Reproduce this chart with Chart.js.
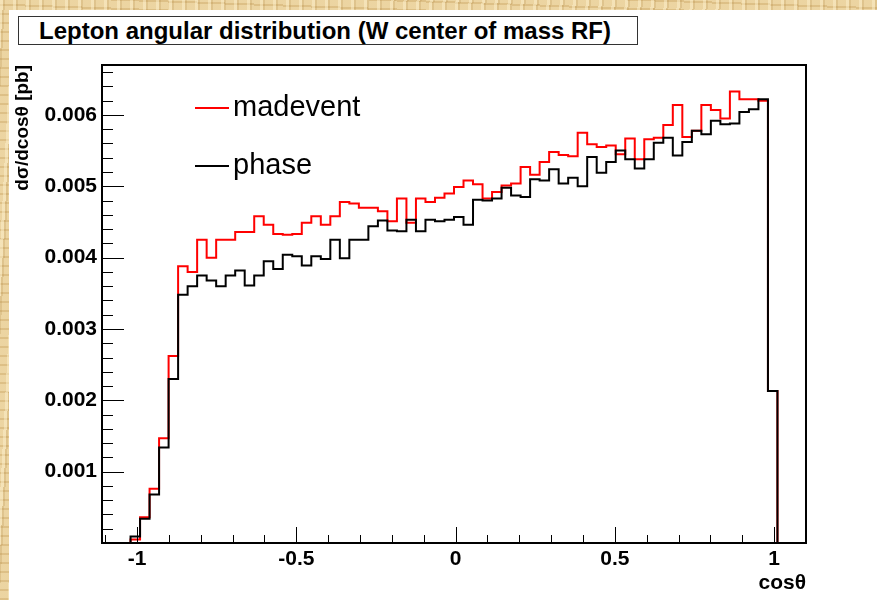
<!DOCTYPE html>
<html>
<head>
<meta charset="utf-8">
<script src="https://cdn.jsdelivr.net/npm/chart.js@4.4.0/dist/chart.umd.min.js"></script>
<style>
  html, body { margin: 0; padding: 0; }
  body {
    width: 877px; height: 600px; overflow: hidden; position: relative;
    background-color: #e6cc96;
    background-image:
      repeating-linear-gradient(93deg, rgba(255,244,210,.45) 0 3px, rgba(170,128,58,.20) 3px 5px, rgba(255,255,255,0) 5px 13px),
      repeating-linear-gradient(2deg, rgba(190,148,78,.22) 0 2px, rgba(255,238,196,.25) 2px 9px);
  }
  #pad { position: absolute; left: 9px; top: 10px; right: 0; bottom: 0; background: #fff; }
  #chart { position: absolute; left: 0; top: 0; }
  #title {
    position: absolute; left: 18px; top: 16px; width: 598px; height: 27px;
    padding-left: 20px; border: 1px solid #333; background: #fff;
    font: bold 24px "Liberation Sans", Arial, sans-serif; line-height: 27px; color: #000;
    white-space: nowrap;
  }
</style>
</head>
<body>
<div id="pad"></div>
<div id="title">Lepton angular distribution (W center of mass RF)</div>
<canvas id="chart" width="877" height="600"></canvas>
<script>
// --- Data (74 bins over the x range) ---
const X_MIN = -1.11;
const X_MAX = 1.10;
const N_BINS = 74;

const SERIES_NAMES = ['madevent', 'phase'];

const MADEVENT = [
  0, 0, 0, 0.00005, 0.00036, 0.00076, 0.00147, 0.00262, 0.00388, 0.00380,
  0.00425, 0.00400, 0.00425, 0.00425, 0.00436, 0.00436, 0.00458, 0.00446, 0.00433, 0.00432,
  0.00433, 0.00449, 0.00458, 0.00446, 0.00458, 0.00478, 0.00476, 0.00470, 0.00470, 0.00465,
  0.00451, 0.00483, 0.00449, 0.00483, 0.00478, 0.00484, 0.00490, 0.00499, 0.00508, 0.00503,
  0.00483, 0.00492, 0.00501, 0.00504, 0.00527, 0.00516, 0.00534, 0.00548, 0.00544, 0.00542,
  0.00575, 0.00559, 0.00555, 0.00557, 0.00545, 0.00567, 0.00538, 0.00566, 0.00568, 0.00586,
  0.00614, 0.00569, 0.00578, 0.00614, 0.00607, 0.00595, 0.00633, 0.00622, 0.00622, 0.00620,
  0.00213, 0, 0, 0
];

const PHASE = [
  0, 0, 0, 0.00009, 0.00034, 0.00068, 0.00134, 0.00230, 0.00348, 0.00360,
  0.00375, 0.00368, 0.00360, 0.00375, 0.00382, 0.00361, 0.00375, 0.00395, 0.00384, 0.00404,
  0.00402, 0.00389, 0.00402, 0.00398, 0.00425, 0.00399, 0.00425, 0.00425, 0.00444, 0.00452,
  0.00438, 0.00437, 0.00453, 0.00437, 0.00453, 0.00451, 0.00453, 0.00457, 0.00446, 0.00481,
  0.00480, 0.00483, 0.00498, 0.00487, 0.00485, 0.00510, 0.00508, 0.00524, 0.00504, 0.00512,
  0.00500, 0.00541, 0.00519, 0.00534, 0.00550, 0.00538, 0.00525, 0.00538, 0.00561, 0.00568,
  0.00543, 0.00562, 0.00578, 0.00573, 0.00592, 0.00587, 0.00588, 0.00604, 0.00608, 0.00622,
  0.00213, 0, 0, 0
];

const X_TICKS = [-1, -0.5, 0, 0.5, 1];
const X_TICK_LABELS = ['-1', '-0.5', '0', '0.5', '1'];
const Y_TICKS = [0.001, 0.002, 0.003, 0.004, 0.005, 0.006];
const Y_TICK_LABELS = ['0.001', '0.002', '0.003', '0.004', '0.005', '0.006'];
const Y_MAX = 0.0067;

// --- Helpers ---
const FONT = '"Liberation Sans", Arial, sans-serif';

function binEdges() {
  const w = (X_MAX - X_MIN) / N_BINS;
  const edges = [];
  for (let i = 0; i <= N_BINS; i++) edges.push(X_MIN + i * w);
  return edges;
}

// histogram as step points: each lower edge carries its bin value
// (stepped 'before' draws the horizontal at the previous point's value)
function histPoints(values) {
  const edges = binEdges();
  return edges.map((e, i) => ({ x: e, y: values[Math.min(i, values.length - 1)] }));
}

// --- ROOT style frame, inward ticks and legend ---
const rootFrame = {
  id: 'rootFrame',
  afterDraw(chart) {
    const { ctx, chartArea: a, scales: { x, y } } = chart;
    ctx.save();
    ctx.strokeStyle = '#000';
    ctx.lineWidth = 1;

    // x ticks (bottom, pointing up)
    ctx.beginPath();
    for (let i = -11; i <= 11; i++) {
      const v = i / 10;
      const px = Math.round(x.getPixelForValue(v)) + 0.5;
      const len = (i % 5 === 0) ? 16 : 8;
      ctx.moveTo(px, a.bottom);
      ctx.lineTo(px, a.bottom - len);
    }
    // y ticks (left, pointing right)
    for (let i = 1; i <= 33; i++) {
      const v = i * 0.0002;
      const py = Math.round(y.getPixelForValue(v)) + 0.5;
      const len = (i % 5 === 0) ? 22 : 11;
      ctx.moveTo(a.left, py);
      ctx.lineTo(a.left + len, py);
    }
    ctx.stroke();

    // frame
    ctx.lineWidth = 2;
    ctx.strokeRect(a.left, a.top, a.right - a.left, a.bottom - a.top);

    // legend
    const rows = [
      { ds: chart.data.datasets[0], y: 108 },
      { ds: chart.data.datasets[1], y: 166 }
    ];
    ctx.font = '29px ' + FONT;
    ctx.textBaseline = 'middle';
    ctx.fillStyle = '#000';
    rows.forEach(r => {
      ctx.strokeStyle = r.ds.borderColor;
      ctx.lineWidth = 2;
      ctx.beginPath();
      ctx.moveTo(195, r.y);
      ctx.lineTo(229, r.y);
      ctx.stroke();
      ctx.fillText(r.ds.label, 233, r.y);
    });
    ctx.restore();
  }
};

// --- Chart ---
const ctx = document.getElementById('chart').getContext('2d');
const chart = new Chart(ctx, {
  type: 'line',
  data: {
    datasets: [
      {
        label: SERIES_NAMES[0],
        data: histPoints(MADEVENT),
        borderColor: '#ff0000',
        borderWidth: 2,
        stepped: 'before',
        pointRadius: 0,
        fill: false,
        order: 1
      },
      {
        label: SERIES_NAMES[1],
        data: histPoints(PHASE),
        borderColor: '#000000',
        borderWidth: 2,
        stepped: 'before',
        pointRadius: 0,
        fill: false,
        order: 0
      }
    ]
  },
  options: {
    responsive: false,
    animation: false,
    layout: { padding: { top: 65, right: 71, left: 0, bottom: 0 } },
    plugins: {
      legend: { display: false },
      tooltip: { enabled: false }
    },
    scales: {
      x: {
        type: 'linear',
        min: X_MIN,
        max: X_MAX,
        grid: { display: false, drawTicks: false },
        border: { display: false },
        afterBuildTicks: s => { s.ticks = X_TICKS.map(v => ({ value: v })); },
        afterFit: s => { s.height = 57; },
        ticks: {
          padding: 4,
          color: '#000',
          font: { family: FONT, weight: 'bold', size: 21 },
          maxRotation: 0,
          callback: (v) => X_TICK_LABELS[X_TICKS.indexOf(v)] ?? ''
        },
        title: {
          display: true,
          text: 'cosθ',
          align: 'end',
          color: '#000',
          font: { family: FONT, weight: 'bold', size: 21 },
          padding: { top: 0, bottom: 4 }
        }
      },
      y: {
        type: 'linear',
        min: 0,
        max: Y_MAX,
        grid: { display: false, drawTicks: false },
        border: { display: false },
        afterBuildTicks: s => { s.ticks = Y_TICKS.map(v => ({ value: v })); },
        afterFit: s => { s.width = 102; },
        ticks: {
          padding: 5,
          color: '#000',
          font: { family: FONT, weight: 'bold', size: 21 },
          callback: (v) => Y_TICK_LABELS[Y_TICKS.indexOf(v)] ?? ''
        },
        title: {
          display: true,
          text: 'dσ/dcosθ [pb]',
          align: 'end',
          color: '#000',
          font: { family: FONT, weight: 'bold', size: 19 },
          padding: { top: 11, bottom: 0 }
        }
      }
    }
  },
  plugins: [rootFrame]
});
</script>
</body>
</html>
